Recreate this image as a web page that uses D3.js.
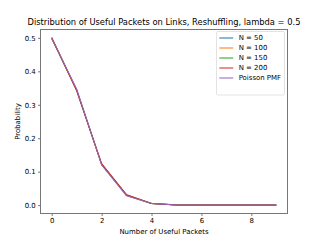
<!DOCTYPE html>
<html>
<head>
<meta charset="utf-8">
<script src="https://cdn.jsdelivr.net/npm/d3@7"></script>
<style>
  body { margin: 0; background: #fff; }
  text { font-family: "DejaVu Sans", sans-serif; fill: #000; }
</style>
</head>
<body>
<div id="chart"></div>
<script>
// number of useful packets
const packets = [0, 1, 2, 3, 4, 5, 6, 7, 8, 9];
// simulated distributions
const n50 = [0.497, 0.345, 0.122, 0.030, 0.0050, 0.0008, 0.0001, 0, 0, 0];
const n100 = [0.499, 0.344, 0.121, 0.031, 0.0048, 0.0007, 0.0001, 0, 0, 0];
const n150 = [0.500, 0.343, 0.122, 0.029, 0.0049, 0.0007, 0.0001, 0, 0, 0];
const n200 = [0.501, 0.342, 0.124, 0.031, 0.0051, 0.0007, 0.0001, 0, 0, 0];
const poisson = [0.5, 0.3466, 0.1201, 0.0278, 0.0048, 0.0007, 0.0001, 0.00001, 0, 0];
const seriesNames = ["N = 50", "N = 100", "N = 150", "N = 200", "Poisson PMF"];
const seriesColors = ["#1f77b4", "#ff7f0e", "#2ca02c", "#d62728", "#9467bd"];
const xTicks = [0, 2, 4, 6, 8];
const yTicks = [0.0, 0.1, 0.2, 0.3, 0.4, 0.5];

const allSeries = [n50, n100, n150, n200, poisson];

const W = 320, H = 240;
const margin = { left: 40.5, right: 32.5, top: 29.5, bottom: 26.5 };
const width = W - margin.left - margin.right,
      height = H - margin.top - margin.bottom;

const svg = d3.select("#chart").append("svg")
    .attr("width", W).attr("height", H);

const g = svg.append("g")
    .attr("transform", `translate(${margin.left},${margin.top})`);

const x = d3.scaleLinear().domain([-0.45, 9.45]).range([0, width]);
const y = d3.scaleLinear().domain([-0.025, 0.525]).range([height, 0]);

// lineas
const line = d3.line()
    .x((d, i) => x(packets[i]))
    .y(d => y(d));

allSeries.forEach((s, k) => {
    g.append("path")
        .datum(s)
        .attr("fill", "none")
        .attr("stroke", seriesColors[k])
        .attr("stroke-width", 1.04)
        .attr("stroke-linejoin", "round")
        .attr("d", line);
});

// ejes
const xAxis = g.append("g")
    .attr("transform", `translate(0,${height})`)
    .call(d3.axisBottom(x).tickValues(xTicks).tickFormat(d3.format("d")).tickSize(2.4).tickPadding(2.4));
const yAxis = g.append("g")
    .call(d3.axisLeft(y).tickValues(yTicks).tickFormat(d3.format(".1f")).tickSize(2.4).tickPadding(2.4));

[xAxis, yAxis].forEach(a => {
    a.select(".domain").remove();
    a.selectAll("line").attr("stroke", "#000").attr("stroke-width", 0.56);
    a.selectAll("text").style("font-family", "DejaVu Sans").style("font-size", "6.94px").attr("fill", "#000");
});

// marco
g.append("rect")
    .attr("width", width).attr("height", height)
    .attr("fill", "none").attr("stroke", "#777").attr("stroke-width", 1);

// titulos
svg.append("text")
    .attr("x", margin.left + width / 2).attr("y", 24.5)
    .attr("text-anchor", "middle")
    .style("font-size", "8.33px")
    .text("Distribution of Useful Packets on Links, Reshuffling, lambda = 0.5");

svg.append("text")
    .attr("x", margin.left + width / 2).attr("y", 234)
    .attr("text-anchor", "middle")
    .style("font-size", "6.94px")
    .text("Number of Useful Packets");

svg.append("text")
    .attr("transform", `translate(20,${margin.top + height / 2}) rotate(-90)`)
    .attr("text-anchor", "middle")
    .style("font-size", "6.94px")
    .text("Probability");

// leyenda
const lx = 216.5, ly = 31.5;
svg.append("rect")
    .attr("x", lx).attr("y", ly).attr("width", 68).attr("height", 63.5)
    .attr("rx", 1.4)
    .attr("fill", "#fff").attr("fill-opacity", 0.8)
    .attr("stroke", "#ccc").attr("stroke-width", 0.56);

seriesNames.forEach((name, i) => {
    const yy = Math.round(ly + 6 + i * 10.2);
    svg.append("line")
        .attr("x1", lx + 2.8).attr("x2", lx + 16.7)
        .attr("y1", yy).attr("y2", yy)
        .attr("stroke", seriesColors[i]).attr("stroke-width", 1.04);
    svg.append("text")
        .attr("x", lx + 22.2).attr("y", yy + 2.4)
        .style("font-size", "6.94px")
        .text(name);
});
</script>
</body>
</html>
